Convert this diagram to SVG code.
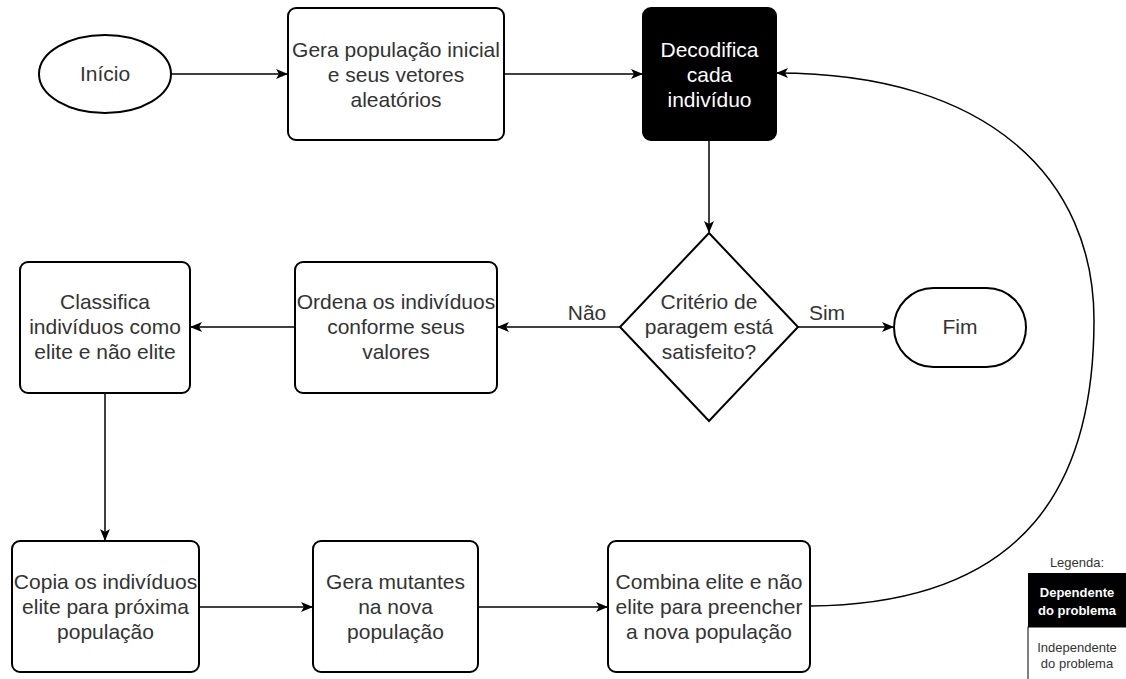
<svg xmlns="http://www.w3.org/2000/svg" width="1126" height="679" viewBox="0 0 1126 679">
<style>
.n{fill:#fff;stroke:#000;stroke-width:2}
.t{font-family:"Liberation Sans",Arial,sans-serif;font-size:21px;fill:#333;text-anchor:middle}
.w{fill:#fff}
.c{fill:none;stroke:#000;stroke-width:1.5}
.l{font-family:"Liberation Sans",Arial,sans-serif;font-size:13px;fill:#333;text-anchor:middle}
</style>
<defs>
<marker id="a" viewBox="0 0 12 10" refX="11" refY="5" markerWidth="12" markerHeight="10" markerUnits="userSpaceOnUse" orient="auto">
<path d="M0,0 L12,5 L0,10 L3,5 Z" fill="#000"/>
</marker>
</defs>
<rect width="1126" height="679" fill="#fff"/>
<g id="connectors">
<line class="c" x1="171" y1="74" x2="287" y2="74" marker-end="url(#a)"/>
<line class="c" x1="504" y1="74" x2="642" y2="74" marker-end="url(#a)"/>
<line class="c" x1="709" y1="140" x2="709" y2="232" marker-end="url(#a)"/>
<line class="c" x1="798" y1="327" x2="893" y2="327" marker-end="url(#a)"/>
<line class="c" x1="620" y1="327" x2="498" y2="327" marker-end="url(#a)"/>
<line class="c" x1="295" y1="327" x2="191" y2="327" marker-end="url(#a)"/>
<line class="c" x1="105" y1="393" x2="105" y2="540" marker-end="url(#a)"/>
<line class="c" x1="199" y1="607" x2="312" y2="607" marker-end="url(#a)"/>
<line class="c" x1="478" y1="607" x2="607" y2="607" marker-end="url(#a)"/>
<path class="c" d="M810,606 C1030,604 1094,480 1094,320 C1094,180 990,73 777,73" marker-end="url(#a)"/>
<text class="t" x="587" y="320">Não</text>
<text class="t" x="827" y="320">Sim</text>
</g>
<g id="inicio">
<ellipse class="n" cx="105" cy="74" rx="66" ry="39"/>
<text class="t" x="105" y="81">Início</text>
</g>
<g id="gera">
<rect class="n" x="288" y="8" width="216" height="132" rx="8"/>
<text class="t" x="396" y="57">Gera população inicial</text>
<text class="t" x="396" y="82">e seus vetores</text>
<text class="t" x="396" y="107">aleatórios</text>
</g>
<g id="decodifica">
<rect x="643" y="8" width="133" height="132" rx="8" fill="#000" stroke="#000" stroke-width="2"/>
<text class="t w" x="709.5" y="57">Decodifica</text>
<text class="t w" x="709.5" y="82">cada</text>
<text class="t w" x="709.5" y="107">indivíduo</text>
</g>
<g id="criterio">
<polygon class="n" points="709,233 798,327 709,421 620,327"/>
<text class="t" x="709" y="309">Critério de</text>
<text class="t" x="709" y="334">paragem está</text>
<text class="t" x="709" y="359">satisfeito?</text>
</g>
<g id="fim">
<rect class="n" x="894" y="288" width="132" height="79" rx="39.5"/>
<text class="t" x="960" y="334">Fim</text>
</g>
<g id="ordena">
<rect class="n" x="295" y="262" width="202" height="131" rx="8"/>
<text class="t" x="396" y="309">Ordena os indivíduos</text>
<text class="t" x="396" y="334">conforme seus</text>
<text class="t" x="396" y="359">valores</text>
</g>
<g id="classifica">
<rect class="n" x="20" y="262" width="170" height="131" rx="8"/>
<text class="t" x="105" y="309">Classifica</text>
<text class="t" x="105" y="334">indivíduos como</text>
<text class="t" x="105" y="359">elite e não elite</text>
</g>
<g id="copia">
<rect class="n" x="12" y="541" width="187" height="131" rx="8"/>
<text class="t" x="105.5" y="589">Copia os indivíduos</text>
<text class="t" x="105.5" y="614">elite para próxima</text>
<text class="t" x="105.5" y="639">população</text>
</g>
<g id="mutantes">
<rect class="n" x="313" y="541" width="165" height="131" rx="8"/>
<text class="t" x="395.5" y="589">Gera mutantes</text>
<text class="t" x="395.5" y="614">na nova</text>
<text class="t" x="395.5" y="639">população</text>
</g>
<g id="combina">
<rect class="n" x="608" y="541" width="202" height="131" rx="8"/>
<text class="t" x="709" y="589">Combina elite e não</text>
<text class="t" x="709" y="614">elite para preencher</text>
<text class="t" x="709" y="639">a nova população</text>
</g>
<g id="legenda">
<text class="l" x="1077" y="567">Legenda:</text>
<rect x="1028" y="573" width="102" height="54" fill="#000"/>
<text class="l" x="1077" y="597" fill="#fff" style="fill:#fff" font-weight="bold">Dependente</text>
<text class="l" x="1077" y="615" style="fill:#fff" font-weight="bold">do problema</text>
<rect x="1028" y="627" width="102" height="60" fill="#fff" stroke="#000" stroke-width="1"/>
<text class="l" x="1077" y="652">Independente</text>
<text class="l" x="1077" y="668">do problema</text>
</g>
</svg>
